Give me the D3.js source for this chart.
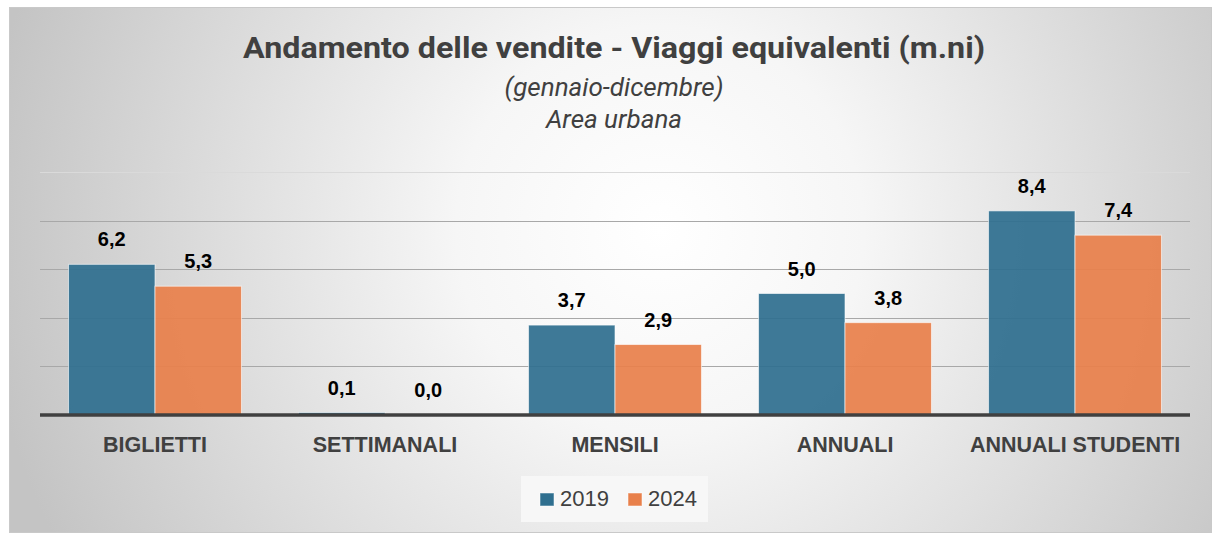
<!DOCTYPE html>
<html>
<head>
<meta charset="utf-8">
<script src="https://cdn.jsdelivr.net/npm/d3@7"></script>
<style>
  body { margin: 0; background: #fff; }
</style>
</head>
<body>
<div id="chart"></div>
<script>
var categories = ["BIGLIETTI", "SETTIMANALI", "MENSILI", "ANNUALI", "ANNUALI STUDENTI"];
var series = ["2019", "2024"];
var values2019 = [6.2, 0.1, 3.7, 5.0, 8.4];
var values2024 = [5.3, 0.0, 2.9, 3.8, 7.4];
var gridTicks = [2, 4, 6, 8, 10];
var colors = ["#2f6f8f", "#e8804b"];

var W = 1220, H = 535;
var margin = {top: 172, left: 40},
    width = 1190 - margin.left,
    height = 415 - margin.top;

var svg = d3.select("#chart")
  .append("svg")
    .attr("width", W)
    .attr("height", H);

// background gradient
var defs = svg.append("defs");
var grad = defs.append("radialGradient")
    .attr("id", "bg")
    .attr("gradientUnits", "userSpaceOnUse")
    .attr("cx", 660).attr("cy", 230).attr("r", 680);
grad.append("stop").attr("offset", "0%").attr("stop-color", "#ffffff");
grad.append("stop").attr("offset", "30%").attr("stop-color", "#f6f6f6");
grad.append("stop").attr("offset", "100%").attr("stop-color", "#c4c4c4");

svg.append("rect")
    .attr("x", 9.5).attr("y", 7.5)
    .attr("width", 1202).attr("height", 525)
    .attr("fill", "url(#bg)")
    .attr("stroke", "#c9c9c9")
    .attr("stroke-width", 1);

// titles
var titleFont = "Roboto, 'Liberation Sans', sans-serif";
svg.append("text")
    .attr("x", 614).attr("y", 58)
    .attr("text-anchor", "middle")
    .attr("textLength", 742)
    .attr("lengthAdjust", "spacingAndGlyphs")
    .style("font-family", titleFont)
    .style("font-weight", "bold")
    .style("font-size", "30px")
    .attr("fill", "#404040")
    .text("Andamento delle vendite  - Viaggi equivalenti (m.ni)");
svg.append("text")
    .attr("x", 614).attr("y", 96)
    .attr("text-anchor", "middle")
    .style("font-family", titleFont)
    .style("font-style", "italic")
    .style("font-size", "26px")
    .attr("fill", "#404040")
    .text("(gennaio-dicembre)");
svg.append("text")
    .attr("x", 614).attr("y", 128)
    .attr("text-anchor", "middle")
    .style("font-family", titleFont)
    .style("font-style", "italic")
    .style("font-size", "26px")
    .attr("fill", "#404040")
    .text("Area urbana");

var g = svg.append("g")
    .attr("transform", "translate(" + margin.left + "," + margin.top + ")");

var x = d3.scaleBand()
  .domain(categories)
  .range([0, width]);

var xs = d3.scaleBand()
  .domain(series)
  .range([0, x.bandwidth()])
  .paddingInner(0)
  .paddingOuter(0.33);

var y = d3.scaleLinear()
  .domain([0, 10])
  .range([height, 0]);

// gridlines
g.append("g")
  .selectAll("line")
  .data(gridTicks)
  .enter()
  .append("line")
    .attr("x1", 0).attr("x2", width)
    .attr("y1", function(d) { return Math.round(y(d)) + 0.5; })
    .attr("y2", function(d) { return Math.round(y(d)) + 0.5; })
    .attr("stroke", function(d) { return d == 10 ? "#dadada" : "#a8a8a8"; })
    .attr("stroke-width", 1.2);

var data = categories.map(function(c, i) {
  return {cat: c, vals: [
    {s: "2019", v: values2019[i]},
    {s: "2024", v: values2024[i]}
  ]};
});

var groups = g.selectAll(".grp")
  .data(data)
  .enter()
  .append("g")
    .attr("class", "grp")
    .attr("transform", function(d) { return "translate(" + x(d.cat) + ",0)"; });

groups.selectAll("rect")
  .data(function(d) { return d.vals; })
  .enter()
  .append("rect")
    .attr("x", function(d) { return xs(d.s); })
    .attr("y", function(d) { return y(d.v); })
    .attr("width", xs.bandwidth())
    .attr("height", function(d) { return height - y(d.v); })
    .attr("fill", function(d, i) { return colors[i]; })
    .attr("fill-opacity", 0.93)
    .attr("stroke", "#ffffff")
    .attr("stroke-opacity", 0.6)
    .attr("stroke-width", 1);

groups.selectAll(".lbl")
  .data(function(d) { return d.vals; })
  .enter()
  .append("text")
    .attr("class", "lbl")
    .attr("x", function(d) { return xs(d.s) + xs.bandwidth() / 2; })
    .attr("y", function(d) { return y(d.v) - 18; })
    .attr("text-anchor", "middle")
    .style("font-family", "'Liberation Sans', Arial, sans-serif")
    .style("font-weight", "bold")
    .style("font-size", "20px")
    .attr("fill", "#000")
    .text(function(d) { return d.v.toFixed(1).replace(".", ","); });

// baseline
g.append("line")
    .attr("x1", 0).attr("x2", width)
    .attr("y1", height).attr("y2", height)
    .attr("stroke", "#404040")
    .attr("stroke-width", 3.5);

// category labels
var xAxis = g.append("g")
    .attr("transform", "translate(0," + height + ")")
    .call(d3.axisBottom(x).tickSize(0).tickPadding(22));
xAxis.select(".domain").remove();
xAxis.selectAll("text")
    .style("font-family", "'Liberation Sans', Arial, sans-serif")
    .style("font-weight", "bold")
    .style("font-size", "21.5px")
    .attr("fill", "#404040");

// legend
var legend = svg.append("g");
legend.append("rect")
    .attr("x", 521).attr("y", 476)
    .attr("width", 187).attr("height", 46)
    .attr("fill", "#f7f7f7");
var legX = [540, 628];
series.forEach(function(s, i) {
  legend.append("rect")
      .attr("x", legX[i]).attr("y", 493)
      .attr("width", 14).attr("height", 13)
      .attr("fill", colors[i])
      .attr("stroke", "#ffffff")
      .attr("stroke-opacity", 0.5);
  legend.append("text")
      .attr("x", legX[i] + 20).attr("y", 506)
      .style("font-family", "'Liberation Sans', Arial, sans-serif")
      .style("font-size", "22px")
      .attr("fill", "#404040")
      .text(s);
});
</script>
</body>
</html>
